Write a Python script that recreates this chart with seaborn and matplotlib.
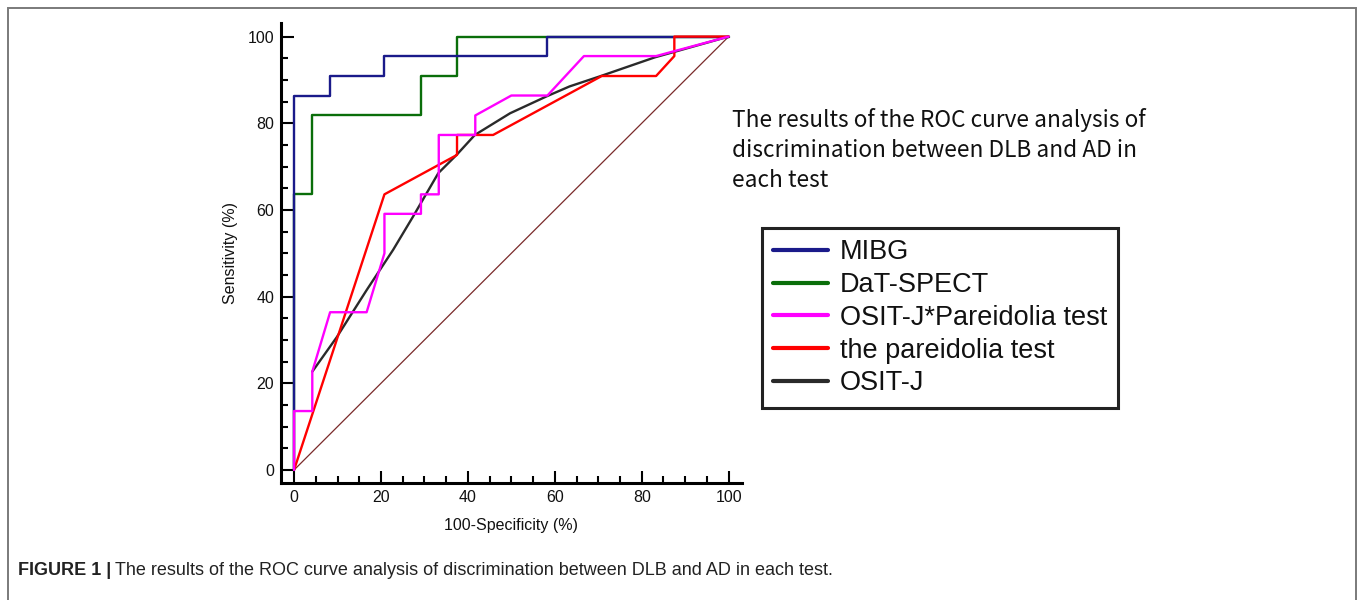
import matplotlib
matplotlib.use("Agg")
import matplotlib.pyplot as plt
import seaborn as sns
import pandas as pd
from matplotlib.lines import Line2D
from matplotlib.patches import Rectangle

sns.set_theme(style="white")
plt.rcParams['font.family'] = ['Liberation Sans', 'DejaVu Sans']

# ---- data ----
mibg_x = [0, 0, 8.3, 8.3, 20.8, 20.8, 58.3, 58.3, 100]
mibg_y = [0, 86.4, 86.4, 90.9, 90.9, 95.5, 95.5, 100, 100]

dat_x = [0, 0, 4.2, 4.2, 29.2, 29.2, 37.5, 37.5, 100]
dat_y = [0, 63.6, 63.6, 81.8, 81.8, 90.9, 90.9, 100, 100]

combo_x = [0, 0, 4.2, 4.2, 8.3, 16.7, 20.8, 20.8, 29.2, 29.2, 33.3, 33.3,
           41.7, 41.7, 50.0, 58.3, 66.7, 83.3, 100]
combo_y = [0, 13.6, 13.6, 22.7, 36.4, 36.4, 50.0, 59.1, 59.1, 63.6, 63.6, 77.3,
           77.3, 81.8, 86.4, 86.4, 95.5, 95.5, 100]

par_x = [0, 20.8, 37.5, 37.5, 45.8, 70.8, 83.3, 87.5, 87.5, 100]
par_y = [0, 63.6, 72.7, 77.3, 77.3, 90.9, 90.9, 95.5, 100, 100]

osit_x = [4.2, 9.8, 16.7, 22.8, 27.4, 33.2, 37.4, 41.6, 49.7, 58.1, 63.4, 70.3, 83.0, 100]
osit_y = [22.7, 30.6, 41.5, 50.8, 58.5, 68.5, 72.7, 77.3, 82.3, 86.2, 88.5, 90.8, 95.2, 100]

diag_x = [0, 100]
diag_y = [0, 100]

labels = ["MIBG", "DaT-SPECT", "OSIT-J*Pareidolia test", "the pareidolia test", "OSIT-J"]
colors = {"MIBG": "#1a1a8a", "DaT-SPECT": "#0a6e0a", "OSIT-J*Pareidolia test": "#ff00ff",
          "the pareidolia test": "#ff0000", "OSIT-J": "#2a2a2a"}

xticks = [0, 20, 40, 60, 80, 100]
yticks = [0, 20, 40, 60, 80, 100]

W, H = 1358, 600
fig = plt.figure(figsize=(W / 100, H / 100), dpi=100)
fig.patch.set_facecolor("white")

ax = fig.add_axes([281 / W, 1 - 483.3 / H, 460.7 / W, 460.6 / H])
ax.set_facecolor("white")

series = {
    "MIBG": (mibg_x, mibg_y),
    "DaT-SPECT": (dat_x, dat_y),
    "OSIT-J*Pareidolia test": (combo_x, combo_y),
    "the pareidolia test": (par_x, par_y),
    "OSIT-J": (osit_x, osit_y),
}

sns.lineplot(x=diag_x, y=diag_y, ax=ax, color="#7a2a2a", lw=0.9,
             sort=False, estimator=None, legend=False)
for name in ["DaT-SPECT", "MIBG", "OSIT-J", "the pareidolia test", "OSIT-J*Pareidolia test"]:
    xs, ys = series[name]
    sns.lineplot(x=xs, y=ys, ax=ax, color=colors[name], lw=1.7,
                 sort=False, estimator=None, legend=False)

ax.set_xlim(-3, 103)
ax.set_ylim(-3.07, 103.2)
for s in ["top", "right"]:
    ax.spines[s].set_visible(False)
for s in ["left", "bottom"]:
    ax.spines[s].set_linewidth(2.2)
    ax.spines[s].set_color("black")

ax.set_xticks(xticks)
ax.set_yticks(yticks)
ax.set_xticks(range(0, 101, 5), minor=True)
ax.set_yticks(range(0, 101, 5), minor=True)
ax.tick_params(which="major", direction="in", length=9, width=1.5, color="black",
               labelsize=11.5, labelcolor="#111111", pad=5,
               bottom=True, left=True)
ax.tick_params(which="minor", direction="in", length=5, width=1.5, color="black",
               bottom=True, left=True)
ax.set_xlabel("100-Specificity (%)", fontsize=11.5, labelpad=9, color="#111111")
ax.set_ylabel("Sensitivity (%)", fontsize=11.5, labelpad=7, color="#111111")
ax.grid(False)

# legend
handles = [Line2D([0], [0], color=colors[n], lw=3) for n in labels]
leg = fig.legend(handles, labels, loc="upper left",
                 bbox_to_anchor=(762 / W, 1 - 228 / H),
                 bbox_transform=fig.transFigure,
                 fontsize=19.5, frameon=True, fancybox=False,
                 edgecolor="#222222", framealpha=1,
                 handlelength=2.0, handletextpad=0.45, labelspacing=0.25,
                 borderpad=0.42, borderaxespad=0)
leg.get_frame().set_linewidth(2.2)
for t in leg.get_texts():
    t.set_color("#111111")

# annotation
fig.text(732 / W, 1 - 108 / H,
         "The results of the ROC curve analysis of\ndiscrimination between DLB and AD in\neach test",
         ha="left", va="top", fontsize=16.3, linespacing=1.4,
         family=["Noto Sans CJK JP", "DejaVu Sans"], color="#111111")

# border
fig.patches.append(Rectangle((8 / W, -0.05), 1348 / W, (592 / H) + 0.05,
                             transform=fig.transFigure, fill=False,
                             edgecolor="#7a7a7a", lw=1.4))

# caption
cap_fam = ["Liberation Sans Narrow", "Liberation Sans"]
t1 = fig.text(18 / W, 1 - 575 / H, "FIGURE 1 |", ha="left", va="baseline",
              fontsize=13, fontweight="bold", family=cap_fam, color="#222222")
fig.canvas.draw()
bb = t1.get_window_extent(renderer=fig.canvas.get_renderer())
fig.text((bb.x1 + 4) / W, 1 - 575 / H,
         "The results of the ROC curve analysis of discrimination between DLB and AD in each test.",
         ha="left", va="baseline", fontsize=13, family=cap_fam, color="#222222")

fig.savefig("out.png", dpi=100, facecolor="white")
